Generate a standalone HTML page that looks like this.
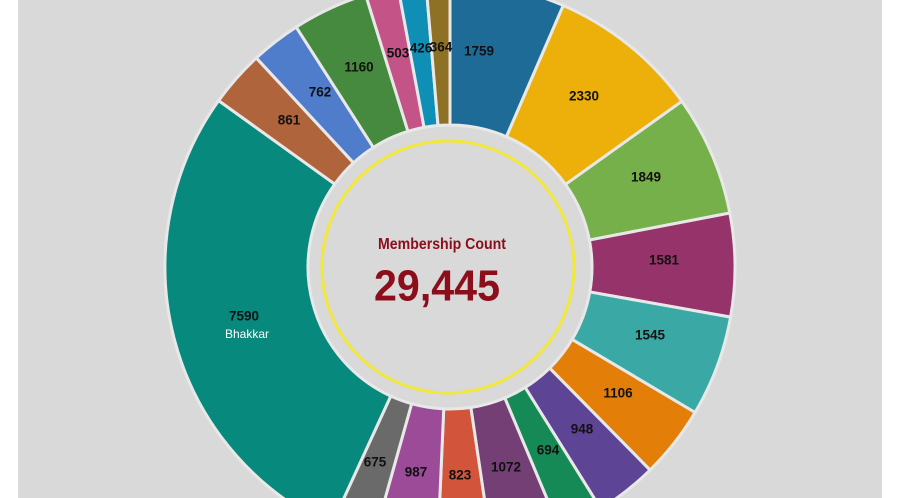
<!DOCTYPE html>
<html><head><meta charset="utf-8">
<style>
html,body{margin:0;padding:0;background:#fff;width:900px;height:498px;overflow:hidden;}
#wrap{position:relative;width:900px;height:498px;overflow:hidden;background:#fff;}
#panel{position:absolute;left:18px;top:0;width:864px;height:498px;background:#d9d9d9;}
svg{position:absolute;left:0;top:0;display:block;}
.l{font-family:"Liberation Sans",sans-serif;font-weight:bold;font-size:13.5px;fill:#111;text-anchor:middle;dominant-baseline:middle;}
</style></head><body>
<div id="wrap"><div id="panel"></div>
<svg id="s" width="900" height="498" viewBox="0 0 900 498"></svg>
</div>
<script>
var cx=450,cy=267,ri=142,ro=285;
var d=[[1759,"#1f6b98"],[2330,"#edb00a"],[1849,"#76b04a"],[1581,"#96336b"],[1545,"#3aa9a6"],[1106,"#e37f08"],[948,"#5e4494"],[694,"#158a56"],[1072,"#743f74"],[823,"#d2543b"],[987,"#9b4b98"],[675,"#6a6a6a"],[7590,"#07897d"],[861,"#b0643b"],[762,"#4f7ccb"],[1160,"#458a3e"],[503,"#c45388"],[426,"#0f8fb5"],[364,"#8e7125"]];
var tot=0;d.forEach(function(x){tot+=x[0];});
function pt(r,a){var t=a*Math.PI/180;return [cx+r*Math.sin(t),cy-r*Math.cos(t)];}
var s='',c=0;
d.forEach(function(x){var a0=c/tot*360;c+=x[0];var a1=c/tot*360;var lg=(a1-a0)>180?1:0;
var p1=pt(ro,a0),p2=pt(ro,a1),p3=pt(ri,a1),p4=pt(ri,a0);
s+='<path d="M'+p1[0]+' '+p1[1]+' A'+ro+' '+ro+' 0 '+lg+' 1 '+p2[0]+' '+p2[1]+' L'+p3[0]+' '+p3[1]+' A'+ri+' '+ri+' 0 '+lg+' 0 '+p4[0]+' '+p4[1]+' Z" fill="'+x[1]+'" stroke="#e8e8e8" stroke-width="3"/>';});
s+='<circle cx="448" cy="'+cy+'" r="126" fill="none" stroke="#f2e83a" stroke-width="3"/>';
var L=[["1759",479,52],["2330",584,97],["1849",646,178],["1581",664,261],["1545",650,336],["1106",618,394],["948",582,430],["694",548,451],["1072",506,468],["823",460,476],["987",416,473],["675",375,463],["7590",244,317],["861",289,121],["762",320,93],["1160",359,68],["503",398,54],["426",421,49],["364",441,48]];
L.forEach(function(l){s+='<text class="l" x="'+l[1]+'" y="'+l[2]+'">'+l[0]+'</text>';});
s+='<text x="247" y="335" font-family="Liberation Sans,sans-serif" font-size="12" fill="#fff" text-anchor="middle" dominant-baseline="middle">Bhakkar</text>';
s+='<text x="442" y="245" font-family="Liberation Sans,sans-serif" font-weight="bold" font-size="16" fill="#8b0e1a" text-anchor="middle" dominant-baseline="middle" textLength="128" lengthAdjust="spacingAndGlyphs">Membership Count</text>';
s+='<text x="437" y="289" font-family="Liberation Sans,sans-serif" font-weight="bold" font-size="44" fill="#8b0e1a" text-anchor="middle" dominant-baseline="middle" textLength="126" lengthAdjust="spacingAndGlyphs">29,445</text>';
document.getElementById('s').innerHTML=s;
</script>
</body></html>
